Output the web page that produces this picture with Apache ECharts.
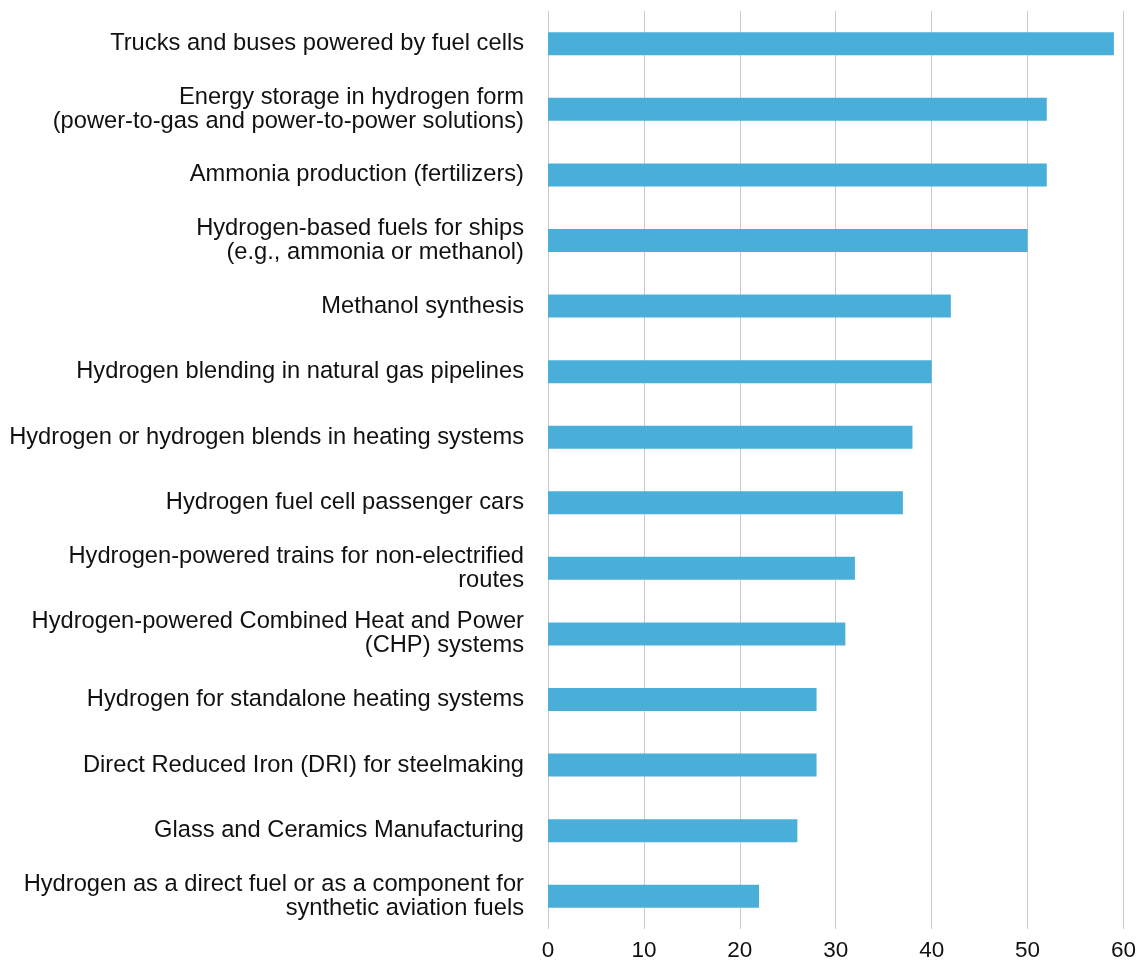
<!DOCTYPE html>
<html>
<head>
<meta charset="utf-8">
<script src="https://cdn.jsdelivr.net/npm/echarts@6/dist/echarts.min.js"></script>
<style>
html,body{margin:0;padding:0;background:#fff;}
#chart{width:1139px;height:963px;}
</style>
</head>
<body>
<div id="chart"></div>
<script>
const categories = [
  "Trucks and buses powered by fuel cells",
  "Energy storage in hydrogen form\n(power-to-gas and power-to-power solutions)",
  "Ammonia production (fertilizers)",
  "Hydrogen-based fuels for ships\n(e.g., ammonia or methanol)",
  "Methanol synthesis",
  "Hydrogen blending in natural gas pipelines",
  "Hydrogen or hydrogen blends in heating systems",
  "Hydrogen fuel cell passenger cars",
  "Hydrogen-powered trains for non-electrified\nroutes",
  "Hydrogen-powered Combined Heat and Power\n(CHP) systems",
  "Hydrogen for standalone heating systems",
  "Direct Reduced Iron (DRI) for steelmaking",
  "Glass and Ceramics Manufacturing",
  "Hydrogen as a direct fuel or as a component for\nsynthetic aviation fuels"
];
const values = [59, 52, 52, 50, 42, 40, 38, 37, 32, 31, 28, 28, 26, 22];
const xTicks = [0, 10, 20, 30, 40, 50, 60];

const chart = echarts.init(document.getElementById('chart'));
const font = "'Liberation Sans', Helvetica, Arial, sans-serif";
chart.setOption({
  animation: false,
  grid: { left: 548, right: 14, top: 11, bottom: 34, containLabel: false },
  xAxis: {
    type: 'value',
    min: xTicks[0],
    max: xTicks[xTicks.length - 1],
    interval: 10,
    axisLine: { show: false },
    axisTick: { show: false },
    splitLine: { show: true, lineStyle: { color: '#c8c8c8', width: 1 } },
    axisLabel: { color: '#111', fontSize: 22.5, fontFamily: font, margin: 10 }
  },
  yAxis: {
    type: 'category',
    inverse: true,
    data: categories,
    axisLine: { show: false },
    axisTick: { show: false },
    axisLabel: { color: '#111', fontSize: 23.7, fontFamily: font, margin: 24, lineHeight: 24, align: 'right', padding: [4, 0, 0, 0] }
  },
  series: [{
    type: 'bar',
    data: values,
    barWidth: 23,
    itemStyle: { color: '#4AAFD8' }
  }]
});
</script>
</body>
</html>
